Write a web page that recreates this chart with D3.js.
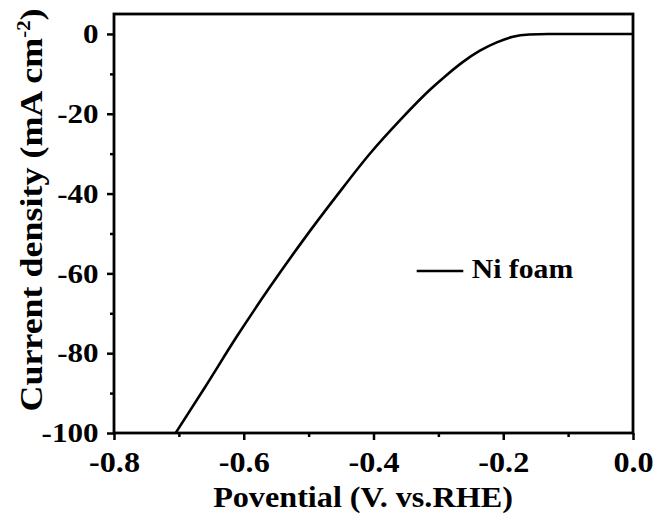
<!DOCTYPE html>
<html>
<head>
<meta charset="utf-8">
<script src="https://cdn.jsdelivr.net/npm/d3@7"></script>
<style>
  body { margin: 0; background: #fff; }
  svg text { font-family: "Liberation Serif", "Times New Roman", serif; font-weight: bold; fill: #000; }
</style>
</head>
<body>
<svg></svg>
<script>
// data
const potential = [-0.705, -0.660, -0.611, -0.560, -0.508, -0.456, -0.405, -0.359, -0.313, -0.288, -0.262, -0.236, -0.210, -0.185, -0.160, -0.130, -0.080, 0];
const current = [-100, -88.6, -75.9, -63.5, -51.6, -40.4, -29.9, -21.6, -14.0, -10.4, -7.0, -4.2, -2.1, -0.7, -0.15, 0, 0, 0];
const xTicks = [-0.8, -0.6, -0.4, -0.2, 0.0];
const xMinor = [-0.7, -0.5, -0.3, -0.1];
const yTicks = [0, -20, -40, -60, -80, -100];
const yMinor = [-10, -30, -50, -70, -90];
const seriesName = "Ni foam";

// setting
const Width = 659;
const Height = 516;
const margin = {top: 14, right: 26, bottom: 83, left: 114};
const w = Width - margin.left - margin.right;
const h = Height - margin.top - margin.bottom;
const sx = 1.13; // glyphs in the picture are a bit wider than Liberation Serif

const svg = d3.select("svg").attr("width", Width).attr("height", Height);
const g = svg.append("g").attr("transform", `translate(${margin.left},${margin.top})`);

const x = d3.scaleLinear().domain([-0.8, 0]).range([0, w]);
const y = d3.scaleLinear().domain([-100, 5]).range([h, 0]);

// minor ticks
g.append("g")
  .attr("transform", `translate(0,${h})`)
  .call(d3.axisBottom(x).tickValues(xMinor).tickSize(4).tickFormat("").tickSizeOuter(0))
  .call(a => a.select(".domain").remove())
  .call(a => a.selectAll("line").attr("stroke-width", 2.5));
g.append("g")
  .call(d3.axisLeft(y).tickValues(yMinor).tickSize(4).tickFormat("").tickSizeOuter(0))
  .call(a => a.select(".domain").remove())
  .call(a => a.selectAll("line").attr("stroke-width", 2.5));

// major ticks
const xAxis = g.append("g")
  .attr("transform", `translate(0,${h})`)
  .call(d3.axisBottom(x).tickValues(xTicks).tickSize(7).tickPadding(11).tickSizeOuter(0));
xAxis.select(".domain").remove();
xAxis.selectAll("line").attr("stroke-width", 2.5);
xAxis.selectAll("text")
  .style("font-size", "29px")
  .attr("transform", `scale(${sx - 0.02},1)`)
  .text(d => d3.format(".1f")(d).replace("−", "-"));

const yAxis = g.append("g")
  .call(d3.axisLeft(y).tickValues(yTicks).tickSize(7).tickPadding(8).tickSizeOuter(0));
yAxis.select(".domain").remove();
yAxis.selectAll("line").attr("stroke-width", 2.5);
yAxis.selectAll("text")
  .style("font-size", "27px")
  .attr("x", -15.5 / (sx + 0.02))
  .attr("transform", `scale(${sx + 0.02},1)`)
  .text(d => String(d).replace("−", "-"));
svg.selectAll(".tick text").attr("font-family", null);

// frame
g.append("rect")
  .attr("width", w).attr("height", h)
  .attr("fill", "none").attr("stroke", "#000").attr("stroke-width", 2.8);

// curve
const pts = potential.map((p, i) => [p, current[i]]);
const line = d3.line().x(d => x(d[0])).y(d => y(d[1])).curve(d3.curveMonotoneX);
g.append("path")
  .datum(pts)
  .attr("d", line)
  .attr("fill", "none").attr("stroke", "#000").attr("stroke-width", 2.6);

// legend
const lg = g.append("g").attr("transform", "translate(302.7,257)");
lg.append("line").attr("x1", 0).attr("x2", 46.6).attr("stroke", "#000").attr("stroke-width", 2.5);
lg.append("text")
  .attr("transform", `translate(55,7.3) scale(${sx - 0.03},1)`)
  .style("font-size", "27px")
  .text(seriesName);

// axis titles
svg.append("text")
  .attr("transform", `translate(363,507) scale(${sx - 0.02},1)`)
  .attr("text-anchor", "middle")
  .style("font-size", "29px")
  .text("Povential (V. vs.RHE)");

const yt = svg.append("text")
  .attr("transform", `translate(42,210) rotate(-90) scale(${sx + 0.03},1)`)
  .attr("text-anchor", "middle")
  .style("font-size", "31px");
yt.append("tspan").text("Current density (mA cm");
yt.append("tspan").attr("dy", -12).style("font-size", "18px").text("-2");
yt.append("tspan").attr("dy", 12).text(")");
</script>
</body>
</html>
